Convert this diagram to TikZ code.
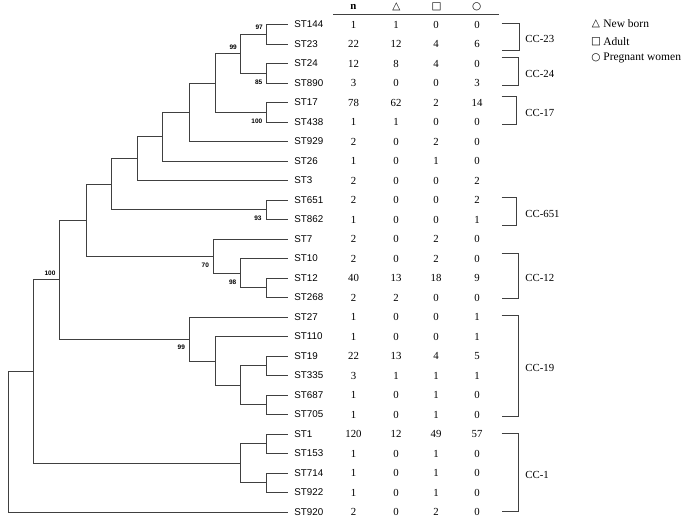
\documentclass[tikz,border=0pt]{standalone}
\usepackage{fontspec}
\setmainfont{Liberation Serif}
\newfontfamily\stfont{Liberation Sans}
\newfontfamily\symfont{DejaVu Sans}
\begin{document}
\begin{tikzpicture}[x=1pt,y=-1pt,line width=0.8pt,
  branch/.style={draw=black!75},
  leaf/.style={anchor=west,inner xsep=6pt,inner ysep=1pt,font=\fontsize{9.8}{11}\stfont},
  boot/.style={anchor=east,inner sep=0pt,font=\fontsize{6.5}{7}\stfont\bfseries},
  bootup/.style={boot,xshift=-3.5pt,yshift=6.5pt},
  bootdown/.style={boot,xshift=-4pt,yshift=-8.7pt},
  cell/.style={inner sep=0pt,font=\fontsize{10.8}{12}\selectfont},
  sym/.style={inner sep=0pt,font=\fontsize{10.5}{12}\symfont},
  cclabel/.style={anchor=west,inner sep=0pt,font=\fontsize{10.8}{12}\selectfont},
  legtext/.style={anchor=west,inner sep=0pt,font=\fontsize{11.5}{13}\selectfont}]
  \useasboundingbox (0,0) rectangle (689,524);

  % leaves and table rows
  \foreach \name/\n/\t/\s/\c [count=\i from 0] in {
      144/1/1/0/0, 23/22/12/4/6, 24/12/8/4/0, 890/3/0/0/3, 17/78/62/2/14,
      438/1/1/0/0, 929/2/0/2/0, 26/1/0/1/0, 3/2/0/0/2, 651/2/0/0/2,
      862/1/0/0/1, 7/2/0/2/0, 10/2/0/2/0, 12/40/13/18/9, 268/2/2/0/0,
      27/1/0/0/1, 110/1/0/0/1, 19/22/13/4/5, 335/3/1/1/1, 687/1/0/1/0,
      705/1/0/1/0, 1/120/12/49/57, 153/1/0/1/0, 714/1/0/1/0, 922/1/0/1/0,
      920/2/0/2/0}{
    \pgfmathsetmacro\y{24.5+19.5*\i}
    \node[leaf] (st\name) at (288,\y) {ST\name};
    \node[cell] (cn\i) at (353.5,\y) {\n};
    \node[cell] (ct\i) at (396,\y) {\t};
    \node[cell] (cs\i) at (436,\y) {\s};
    \node[cell] (cc\i) at (477,\y) {\c};
  }

  % internal nodes
  \coordinate (root) at (8.3,441.7);
  \coordinate (a) at (33.3,371.4);
  \coordinate (b) at (59.3,279.5);
  \coordinate (d) at (86,220.1);
  \coordinate (h) at (111.7,184.2);
  \coordinate (l) at (137.7,158.6);
  \coordinate (m) at (162.7,136.6);
  \coordinate (g) at (189.3,112.25);
  \coordinate (p) at (215,83);
  \coordinate (q) at (240.7,53.75);
  \coordinate (q1) at (266.7,34.25);
  \coordinate (q2) at (266.7,73.25);
  \coordinate (r) at (266.7,112.25);
  \coordinate (k93) at (266,209.75);
  \coordinate (i) at (213.3,256.1);
  \coordinate (j) at (240.7,273.1);
  \coordinate (k) at (266.7,287.75);
  \coordinate (e) at (189.3,338.9);
  \coordinate (f) at (215,360.9);
  \coordinate (f0) at (240.7,385.25);
  \coordinate (f1) at (266.7,365.75);
  \coordinate (f2) at (266.7,404.75);
  \coordinate (c) at (240.7,463.25);
  \coordinate (c1) at (266.7,443.75);
  \coordinate (c2) at (266.7,482.75);

  % branches
  \draw[branch] (root) |- (a);
  \draw[branch] (root) |- (st920.west);
  \draw[branch] (a) |- (b);
  \draw[branch] (a) |- (c);
  \draw[branch] (c) |- (c1);
  \draw[branch] (c) |- (c2);
  \draw[branch] (c1) |- (st1.west);
  \draw[branch] (c1) |- (st153.west);
  \draw[branch] (c2) |- (st714.west);
  \draw[branch] (c2) |- (st922.west);
  \draw[branch] (b) |- (d);
  \draw[branch] (b) |- (e);
  \draw[branch] (e) |- (st27.west);
  \draw[branch] (e) |- (f);
  \draw[branch] (f) |- (st110.west);
  \draw[branch] (f) |- (f0);
  \draw[branch] (f0) |- (f1);
  \draw[branch] (f0) |- (f2);
  \draw[branch] (f1) |- (st19.west);
  \draw[branch] (f1) |- (st335.west);
  \draw[branch] (f2) |- (st687.west);
  \draw[branch] (f2) |- (st705.west);
  \draw[branch] (d) |- (h);
  \draw[branch] (d) |- (i);
  \draw[branch] (i) |- (st7.west);
  \draw[branch] (i) |- (j);
  \draw[branch] (j) |- (st10.west);
  \draw[branch] (j) |- (k);
  \draw[branch] (k) |- (st12.west);
  \draw[branch] (k) |- (st268.west);
  \draw[branch] (h) |- (l);
  \draw[branch] (h) |- (k93);
  \draw[branch] (k93) |- (st651.west);
  \draw[branch] (k93) |- (st862.west);
  \draw[branch] (l) |- (m);
  \draw[branch] (l) |- (st3.west);
  \draw[branch] (m) |- (g);
  \draw[branch] (m) |- (st26.west);
  \draw[branch] (g) |- (p);
  \draw[branch] (g) |- (st929.west);
  \draw[branch] (p) |- (q);
  \draw[branch] (p) |- (r);
  \draw[branch] (r) |- (st17.west);
  \draw[branch] (r) |- (st438.west);
  \draw[branch] (q) |- (q1);
  \draw[branch] (q) |- (q2);
  \draw[branch] (q1) |- (st144.west);
  \draw[branch] (q1) |- (st23.west);
  \draw[branch] (q2) |- (st24.west);
  \draw[branch] (q2) |- (st890.west);

  % bootstrap values
  \node[bootup] (bq1) at (q1) {97};
  \node[bootup] (bq) at (q) {99};
  \node[bootdown] (bq2) at (q2) {85};
  \node[bootdown] (br) at (r) {100};
  \node[bootdown] (bk93) at (k93) {93};
  \node[bootdown] (bi) at (i) {70};
  \node[bootdown] (bj) at (j) {98};
  \node[bootup] (bb) at (b) {100};
  \node[bootdown] (be) at (e) {99};

  % table header
  \node[cell,font=\fontsize{10.8}{12}\bfseries] (hn) at (353.5,7) {n};
  \node[sym] (ht) at (396.5,7) {△};
  \node[sym] (hs) at (436.5,7) {□};
  \node[sym] (hc) at (476.7,7) {○};
  \draw[branch] (333,14.8) -- (499,14.8);

  % clonal complexes
  \foreach \top/\bot/\rx/\lab in {23.3/50.7/519.3/CC-23, 57.3/85.7/518.3/CC-24,
      96.7/124.3/516.7/CC-17, 197.3/225.7/516.7/CC-651, 253.3/298.3/518.3/CC-12,
      315.7/416.7/518.3/CC-19, 433.3/511.7/518.3/CC-1}{
    \draw[branch] (501.7,\top) -| (\rx,\bot) -- (501.7,\bot);
    \node[cclabel] (\lab) at (525,{(\top+\bot)/2+2}) {\lab};
  }

  % legend
  \node[sym] (lt) at (596,24) {△};
  \node[legtext] (lnew) at (603,24) {New born};
  \node[sym] (ls) at (596,41.3) {□};
  \node[legtext] (ladult) at (603,41.3) {Adult};
  \node[sym] (lc) at (596,57.7) {○};
  \node[legtext] (lpreg) at (603,57.7) {Pregnant women};
\end{tikzpicture}
\end{document}
